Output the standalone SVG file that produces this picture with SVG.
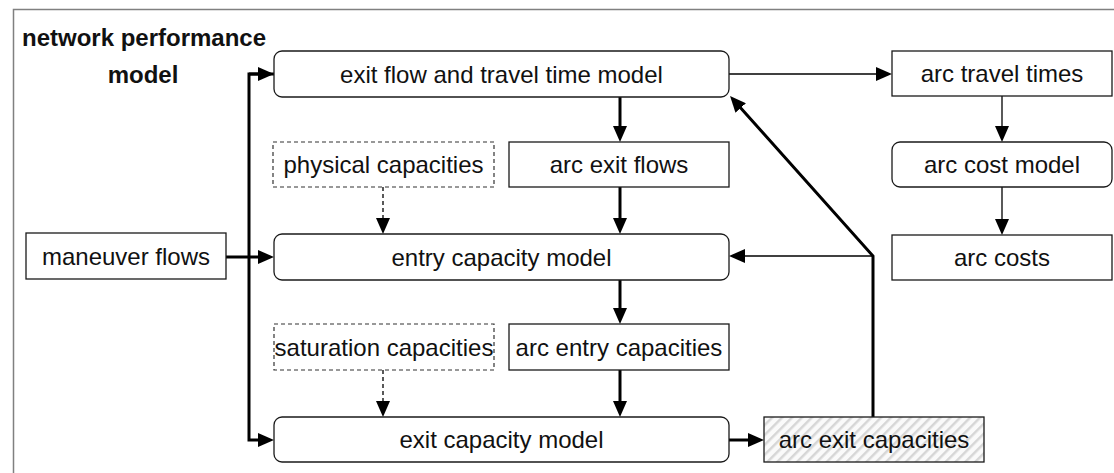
<svg xmlns="http://www.w3.org/2000/svg" width="1114" height="473" viewBox="0 0 1114 473">
<style>
.box{fill:#fff;stroke:#1a1a1a;stroke-width:1.3}
.dash{fill:#fff;stroke:#333;stroke-width:1.2;stroke-dasharray:4 3}
.lbl{font-family:"Liberation Sans",Arial,sans-serif;font-size:24px;fill:#111;text-anchor:middle}
.title{font-family:"Liberation Sans",Arial,sans-serif;font-size:24px;font-weight:bold;fill:#111}
.thick{fill:none;stroke:#000;stroke-width:3}
.thin{fill:none;stroke:#000;stroke-width:1.3}
.dline{fill:none;stroke:#000;stroke-width:1.3;stroke-dasharray:4 3}
</style>
<defs>
<marker id="ah" markerUnits="userSpaceOnUse" markerWidth="16" markerHeight="14" refX="6" refY="7" orient="auto">
<path d="M0,0 L16,7 L0,14 Z" fill="#000"/>
</marker>
<pattern id="hatch" patternUnits="userSpaceOnUse" width="7" height="7" patternTransform="rotate(45)">
<rect width="7" height="7" fill="#fafafa"/>
<rect width="2.5" height="7" fill="#d6d6d6"/>
</pattern>
</defs>
<rect x="13.5" y="9.5" width="1120" height="480" fill="#fff" stroke="#808080" stroke-width="1.5"/>
<g id="title">
<text class="title" x="22" y="46">network performance</text>
<text class="title" x="143" y="83" text-anchor="middle">model</text>
</g>
<g id="connectors">
<path class="thick" d="M274,74 H249 V440 H264" marker-end="url(#ah)" stroke-linejoin="miter"/>
<path class="thick" d="M249,74 H264" marker-end="url(#ah)"/>
<path class="thick" d="M226,257 H264" marker-end="url(#ah)"/>
<path class="thick" d="M620,97 V132" marker-end="url(#ah)"/>
<path class="thick" d="M620,187 V224" marker-end="url(#ah)"/>
<path class="dline" d="M383,187 V224" marker-end="url(#ah)"/>
<path class="thick" d="M620,280 V314" marker-end="url(#ah)"/>
<path class="dline" d="M383,370 V407" marker-end="url(#ah)"/>
<path class="thick" d="M620,370 V407" marker-end="url(#ah)"/>
<path class="thick" d="M729,440 H754" marker-end="url(#ah)"/>
<path class="thick" d="M873,417 V256 L736.7,103.5" marker-end="url(#ah)"/>
<path class="thin" d="M873,256 H739" marker-end="url(#ah)"/>
<path class="thin" d="M729,74 H882" marker-end="url(#ah)"/>
<path class="thin" d="M1002,96 V132" marker-end="url(#ah)"/>
<path class="thin" d="M1002,187 V225" marker-end="url(#ah)"/>
</g>
<g id="exit-flow-model">
<rect class="box" x="274" y="51" width="455" height="46" rx="8"/>
<text class="lbl" x="501.5" y="83">exit flow and travel time model</text>
</g>
<g id="arc-exit-flows">
<rect class="box" x="509" y="142" width="220" height="45"/>
<text class="lbl" x="619" y="173">arc exit flows</text>
</g>
<g id="physical-capacities">
<rect class="dash" x="273" y="142" width="221" height="45"/>
<text class="lbl" x="383.5" y="173">physical capacities</text>
</g>
<g id="maneuver-flows">
<rect class="box" x="26" y="233" width="200" height="46"/>
<text class="lbl" x="126" y="265">maneuver flows</text>
</g>
<g id="entry-capacity-model">
<rect class="box" x="274" y="234" width="455" height="46" rx="8"/>
<text class="lbl" x="501.5" y="266">entry capacity model</text>
</g>
<g id="saturation-capacities">
<rect class="dash" x="274" y="324" width="220" height="46"/>
<text class="lbl" x="384" y="356">saturation capacities</text>
</g>
<g id="arc-entry-capacities">
<rect class="box" x="509" y="324" width="220" height="46"/>
<text class="lbl" x="619" y="356">arc entry capacities</text>
</g>
<g id="exit-capacity-model">
<rect class="box" x="274" y="417" width="455" height="45" rx="8"/>
<text class="lbl" x="501.5" y="448">exit capacity model</text>
</g>
<g id="arc-exit-capacities">
<rect x="764" y="417" width="220" height="45" fill="url(#hatch)" stroke="#1a1a1a" stroke-width="1.3"/>
<text class="lbl" x="874" y="448">arc exit capacities</text>
</g>
<g id="arc-travel-times">
<rect class="box" x="892" y="51" width="220" height="45"/>
<text class="lbl" x="1002" y="82">arc travel times</text>
</g>
<g id="arc-cost-model">
<rect class="box" x="892" y="142" width="220" height="45" rx="8"/>
<text class="lbl" x="1002" y="173">arc cost model</text>
</g>
<g id="arc-costs">
<rect class="box" x="892" y="235" width="220" height="45"/>
<text class="lbl" x="1002" y="266">arc costs</text>
</g>
</svg>
